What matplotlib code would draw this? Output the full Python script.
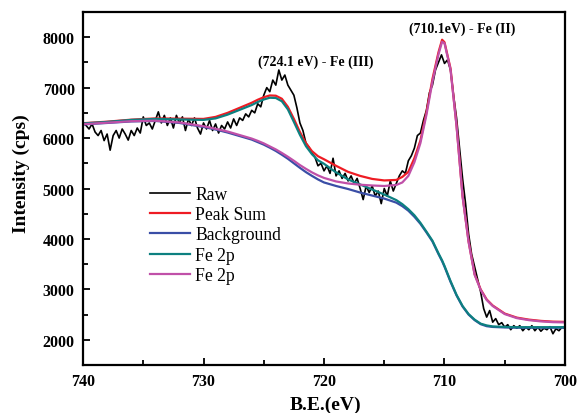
import numpy as np
import matplotlib.pyplot as plt
from matplotlib.ticker import MultipleLocator

plt.rcParams['font.family'] = ['Liberation Serif', 'DejaVu Serif']

# measured spectrum, 740 -> 700 eV in 0.25 eV steps
be_raw = np.linspace(740, 700, 161)
raw = [6300, 6250, 6180, 6280, 6120, 6050, 6150, 5950, 6080, 5760,
       6050, 6150, 6000, 6180, 6080, 5960, 6150, 6050, 6200, 6100,
       6420, 6250, 6300, 6180, 6350, 6520, 6300, 6450, 6250, 6400,
       6200, 6450, 6300, 6420, 6150, 6380, 6250, 6400, 6200, 6080,
       6300, 6180, 6350, 6150, 6280, 6100, 6250, 6180, 6320, 6200,
       6380, 6250, 6400, 6350, 6480, 6420, 6550, 6500, 6680, 6620,
       6850, 7000, 6920, 7150, 7050, 7350, 7150, 7250, 7050, 6950,
       6850, 6600, 6300, 6150, 5900, 5820, 5700, 5620, 5450, 5500,
       5350, 5450, 5300, 5600, 5250, 5350, 5200, 5300, 5150, 5250,
       5100, 5200, 5000, 4780, 5050, 4920, 5050, 4850, 4950, 4700,
       5000, 4850, 5150, 4950, 5100, 5250, 5350, 5300, 5550, 5650,
       5800, 6050, 6100, 6350, 6550, 6900, 7050, 7350, 7500, 7650,
       7480, 7550, 7350, 6850, 6400, 5800, 5200, 4700, 4100, 3700,
       3450, 3200, 2950, 2620, 2450, 2580, 2350, 2420, 2300, 2340,
       2250, 2300, 2200, 2280, 2230, 2280, 2180, 2250, 2200, 2280,
       2180, 2250, 2170, 2230, 2200, 2260, 2120, 2220, 2180, 2250,
       2230]

# fitted curves
be_fit = [740, 738, 736, 734, 732, 730, 729, 728, 727, 726,
          725.5, 725, 724.5, 724, 723.5, 723, 722.5, 722, 721.5, 721,
          720.5, 720, 719, 718, 717, 716, 715, 714, 713.5, 713,
          712.5, 712, 711.5, 711, 710.5, 710.2, 710, 709.5, 709, 708.5,
          708, 707.5, 707, 706.5, 706, 705, 704, 703, 702, 701, 700]

peak_sum = [6295, 6325, 6365, 6390, 6385, 6380, 6420, 6500, 6600, 6700,
            6760, 6810, 6845, 6840, 6780, 6620, 6380, 6120, 5900, 5740,
            5640, 5580, 5450, 5330, 5250, 5190, 5160, 5170, 5230, 5330,
            5600, 5950, 6510, 7170, 7700, 7950, 7900, 7380, 6250, 4850,
            3950, 3300, 3000, 2800, 2680, 2520, 2440, 2400, 2375, 2360, 2355]

background = [6270, 6300, 6330, 6340, 6300, 6220, 6170, 6110, 6040, 5970,
              5920, 5870, 5810, 5745, 5670, 5590, 5500, 5410, 5325, 5250,
              5180, 5120, 5050, 4990, 4920, 4860, 4800, 4720, 4650, 4560,
              4440, 4300, 4130, 3950, 3700, 3560, 3450, 3150, 2880, 2660,
              2500, 2390, 2310, 2270, 2255, 2245, 2240, 2240, 2240, 2240, 2240]

fe3 = [6290, 6320, 6360, 6380, 6370, 6360, 6390, 6465, 6560, 6655,
       6715, 6765, 6800, 6795, 6730, 6570, 6320, 6065, 5840, 5680,
       5560, 5490, 5320, 5180, 5080, 4980, 4880, 4770, 4690, 4590,
       4470, 4320, 4145, 3965, 3715, 3575, 3465, 3165, 2890, 2670,
       2510, 2400, 2320, 2285, 2265, 2255, 2250, 2250, 2250, 2250, 2250]

fe2 = [6275, 6305, 6335, 6345, 6310, 6235, 6185, 6130, 6060, 5990,
       5945, 5895, 5835, 5775, 5705, 5630, 5550, 5465, 5390, 5320,
       5260, 5210, 5140, 5100, 5075, 5060, 5050, 5070, 5120, 5250,
       5520, 5900, 6460, 7120, 7660, 7910, 7880, 7360, 6240, 4840,
       3940, 3290, 2990, 2790, 2670, 2510, 2430, 2390, 2365, 2350, 2345]

fig = plt.figure(figsize=(5.79, 4.14), dpi=100)
ax = fig.add_axes([0.1434, 0.1159, 0.8324, 0.8527])

ax.plot(be_raw, raw, color='black', lw=1.2, label='Raw')
ax.plot(be_fit, peak_sum, color='#ee1c24', lw=1.6, label='Peak Sum')
ax.plot(be_fit, background, color='#3a4ea6', lw=1.6, label='Background')
ax.plot(be_fit, fe3, color='#0d8080', lw=1.6, label='Fe 2p')
ax.plot(be_fit, fe2, color='#c050a8', lw=1.6, label='Fe 2p')

ax.set_xlim(740, 700)
ax.set_ylim(1500, 8500)
ax.xaxis.set_major_locator(MultipleLocator(10))
ax.xaxis.set_minor_locator(MultipleLocator(5))
ax.yaxis.set_major_locator(MultipleLocator(1000))
ax.yaxis.set_minor_locator(MultipleLocator(500))
ax.tick_params(which='both', direction='in', top=False, right=False, width=1.3)
ax.tick_params(which='major', length=5, labelsize=11.5, pad=6)
ax.tick_params(which='minor', length=3.5)
for lab in ax.get_xticklabels() + ax.get_yticklabels():
    lab.set_fontweight('bold')
for sp in ax.spines.values():
    sp.set_linewidth(1.6)

ax.set_xlabel('B.E.(eV)', fontsize=14, fontweight='bold')
ax.set_ylabel('Intensity (cps)', fontsize=14, fontweight='bold')
ax.xaxis.set_label_coords(0.504, -0.088)
ax.yaxis.set_label_coords(-0.11, 0.545)

ax.text(720.7, 7524, '(724.1 eV) - Fe (III)', fontsize=10, fontweight='bold',
        ha='center', va='center')
ax.text(708.5, 8178, '(710.1eV) - Fe (II)', fontsize=10, fontweight='bold',
        ha='center', va='center')

ax.legend(loc='upper left', bbox_to_anchor=(0.12, 0.533), frameon=False,
          fontsize=12.7, handlelength=2.3, handletextpad=0.28, labelspacing=0.19,
          borderpad=0)

fig.savefig('out.png', dpi=100)
